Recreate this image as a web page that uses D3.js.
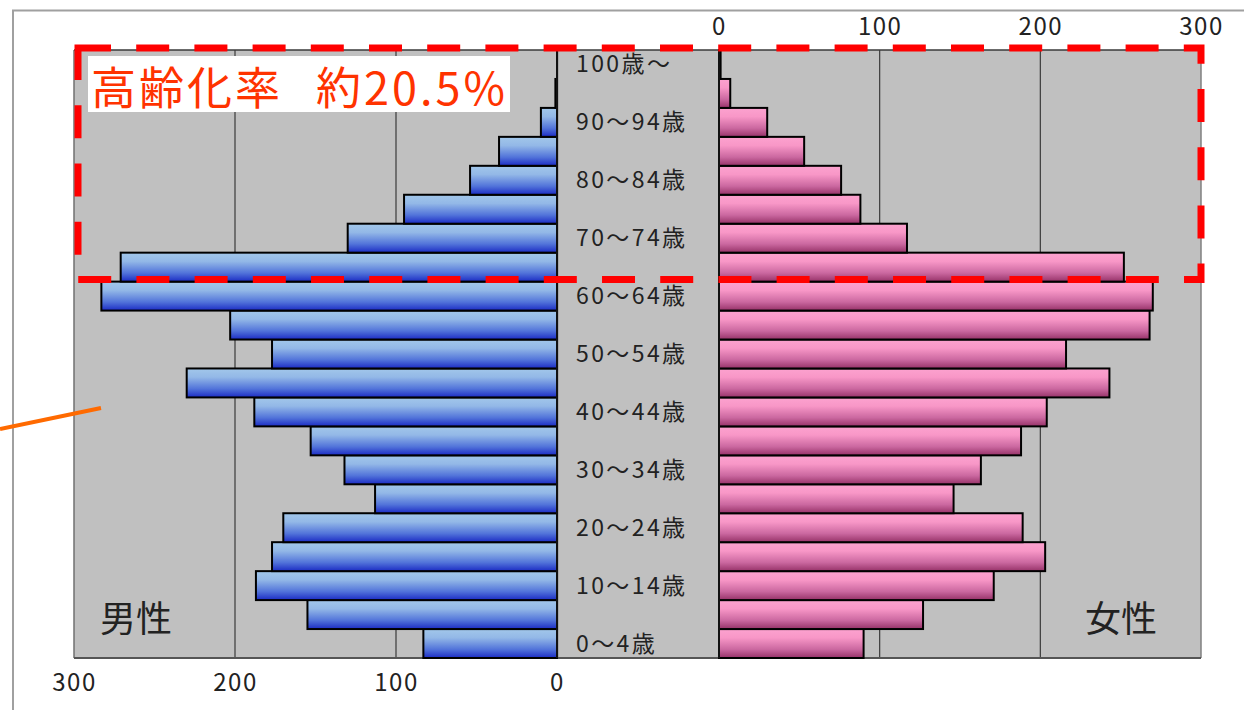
<!DOCTYPE html>
<html lang="ja">
<head>
<meta charset="utf-8">
<script src="https://cdn.jsdelivr.net/npm/d3@7"></script>
<style>
  html, body { margin: 0; padding: 0; background: #fff; }
  svg { display: block; }
  text { font-family: "Noto Sans CJK JP", "Noto Sans", sans-serif; }
</style>
</head>
<body>
<svg id="chart" width="1244" height="710"></svg>
<script>
// Age groups, youngest first
const ageGroups = ["0-4","5-9","10-14","15-19","20-24","25-29","30-34","35-39","40-44","45-49",
  "50-54","55-59","60-64","65-69","70-74","75-79","80-84","85-89","90-94","95-99","100+"];
// Labels shown in the centre column (every other group)
const ageLabels = {"0-4":"0～4歳","10-14":"10～14歳","20-24":"20～24歳","30-34":"30～34歳",
  "40-44":"40～44歳","50-54":"50～54歳","60-64":"60～64歳","70-74":"70～74歳",
  "80-84":"80～84歳","90-94":"90～94歳","100+":"100歳～"};
// Population by age group
const male   = [83,155,187,177,170,113,132,153,188,230,177,203,283,271,130,95,54,36,10,1,0];
const female = [90,127,171,203,189,146,163,188,204,243,216,268,270,252,117,88,76,53,30,7,1];
const axisTicks = [0,100,200,300];
const agingLabel = "高齢化率";
const agingValue = "約20.5%";

const svg = d3.select("#chart");
const plotTop = 50, plotBottom = 658;
const leftX = 74, maleZero = 557, femaleZero = 719, rightX = 1201;

const y = d3.scaleBand().domain(ageGroups.slice().reverse()).range([plotTop, plotBottom]).padding(0);
const xMale = d3.scaleLinear().domain([0, 300]).range([maleZero, leftX]);
const xFemale = d3.scaleLinear().domain([0, 300]).range([femaleZero, rightX]);

// Gradients for bars
const defs = svg.append("defs");
function grad(id, stops) {
  const g = defs.append("linearGradient").attr("id", id)
    .attr("x1", 0).attr("y1", 0).attr("x2", 0).attr("y2", 1);
  stops.forEach(([o, c]) => g.append("stop").attr("offset", o).attr("stop-color", c));
}
grad("gMale", [[0, "#a2c7ea"], [0.3, "#93b8e7"], [0.7, "#5274da"], [1, "#1b2bc4"]]);
grad("gFemale", [[0, "#fca2cf"], [0.3, "#f897c7"], [0.7, "#cb68a0"], [1, "#963268"]]);

// Outer frame
svg.append("path").attr("d", "M13,710 V10.5 H1244")
  .attr("fill", "none").attr("stroke", "#a0a0a0").attr("stroke-width", 2);

// Plot background
svg.append("rect").attr("x", leftX).attr("y", plotTop).attr("width", rightX - leftX)
  .attr("height", plotBottom - plotTop).attr("fill", "#c0c0c0");

// Gridlines
const grid = svg.append("g").attr("stroke", "#3a3a3a").attr("stroke-width", 1.2);
[100, 200].forEach(v => {
  grid.append("line").attr("x1", xMale(v)).attr("x2", xMale(v)).attr("y1", plotTop).attr("y2", plotBottom);
  grid.append("line").attr("x1", xFemale(v)).attr("x2", xFemale(v)).attr("y1", plotTop).attr("y2", plotBottom);
});
svg.append("line").attr("x1", leftX).attr("x2", leftX).attr("y1", plotTop).attr("y2", plotBottom)
  .attr("stroke", "#707070").attr("stroke-width", 1.5);
svg.append("line").attr("x1", rightX).attr("x2", rightX).attr("y1", plotTop).attr("y2", plotBottom)
  .attr("stroke", "#808080").attr("stroke-width", 1.5);
svg.append("line").attr("x1", maleZero + 1.5).attr("x2", maleZero + 1.5).attr("y1", plotTop).attr("y2", plotBottom)
  .attr("stroke", "#a8a8a8").attr("stroke-width", 1);
svg.append("line").attr("x1", leftX).attr("x2", rightX).attr("y1", plotTop).attr("y2", plotTop)
  .attr("stroke", "#3a3a3a").attr("stroke-width", 1.5);
svg.append("line").attr("x1", leftX).attr("x2", rightX).attr("y1", plotBottom).attr("y2", plotBottom)
  .attr("stroke", "#555").attr("stroke-width", 2);

// Bars
svg.append("g").selectAll("rect").data(ageGroups).join("rect")
  .attr("x", (d, i) => xMale(male[i]))
  .attr("y", d => y(d))
  .attr("width", (d, i) => maleZero - xMale(male[i]))
  .attr("height", y.bandwidth())
  .attr("fill", "url(#gMale)").attr("stroke", "#000").attr("stroke-width", 2);
svg.append("g").selectAll("rect").data(ageGroups).join("rect")
  .attr("x", femaleZero)
  .attr("y", d => y(d))
  .attr("width", (d, i) => xFemale(female[i]) - femaleZero)
  .attr("height", y.bandwidth())
  .attr("fill", "url(#gFemale)").attr("stroke", "#000").attr("stroke-width", 2);

// Zero axes
[maleZero, femaleZero].forEach(x => svg.append("line").attr("x1", x).attr("x2", x)
  .attr("y1", plotTop).attr("y2", plotBottom).attr("stroke", "#111").attr("stroke-width", 2));

// Age labels
svg.append("g").selectAll("text").data(ageGroups.filter(d => ageLabels[d])).join("text")
  .attr("x", 576).attr("y", d => y(d) + y.bandwidth() / 2 + 8)
  .attr("font-size", 23).attr("fill", "#222").attr("letter-spacing", 2.4)
  .text(d => ageLabels[d]);

// Axes
const axisMale = d3.axisBottom(xMale).tickValues(axisTicks).tickSize(0).tickPadding(0);
const gm = svg.append("g").attr("transform", `translate(0,${plotBottom + 16})`).call(axisMale);
const axisFemale = d3.axisTop(xFemale).tickValues(axisTicks).tickSize(0).tickPadding(0);
const gf = svg.append("g").attr("transform", `translate(0,35)`).call(axisFemale);
[gm, gf].forEach(g => {
  g.select(".domain").remove();
  g.selectAll("text").attr("font-family", "\"Noto Sans CJK JP\", sans-serif")
    .attr("font-size", 24).attr("letter-spacing", 1.5).attr("fill", "#222");
});
gm.selectAll("text").attr("dy", "0.71em");

// Sex labels
svg.append("text").attr("x", 136).attr("y", 632).attr("text-anchor", "middle")
  .attr("font-size", 36).attr("fill", "#222").text("男性");
svg.append("text").attr("x", 1121).attr("y", 632).attr("text-anchor", "middle")
  .attr("font-size", 36).attr("fill", "#222").text("女性");

// Aging-rate callout
svg.append("rect").attr("x", 88).attr("y", 56).attr("width", 422).attr("height", 56).attr("fill", "#fff");
const callout = svg.append("text").attr("y", 105).attr("font-size", 45).attr("fill", "#ff3300");
callout.append("tspan").attr("x", 91).attr("letter-spacing", 3).text(agingLabel);
callout.append("tspan").attr("x", 316).attr("letter-spacing", 3).text(agingValue);

// Dashed frame around the elderly groups
const boxTop = y("100+") - 2, boxBottom = y("65-69") + y.bandwidth() - 2;
svg.append("rect").attr("x", 78).attr("y", boxTop).attr("width", rightX - 78)
  .attr("height", boxBottom - boxTop)
  .attr("fill", "none").attr("stroke", "#ff0000").attr("stroke-width", 7)
  .attr("stroke-dasharray", "33 25.2");

// Pointer line
svg.append("line").attr("x1", 0).attr("y1", 429).attr("x2", 101).attr("y2", 408)
  .attr("stroke", "#ff6a00").attr("stroke-width", 4);
</script>
</body>
</html>
